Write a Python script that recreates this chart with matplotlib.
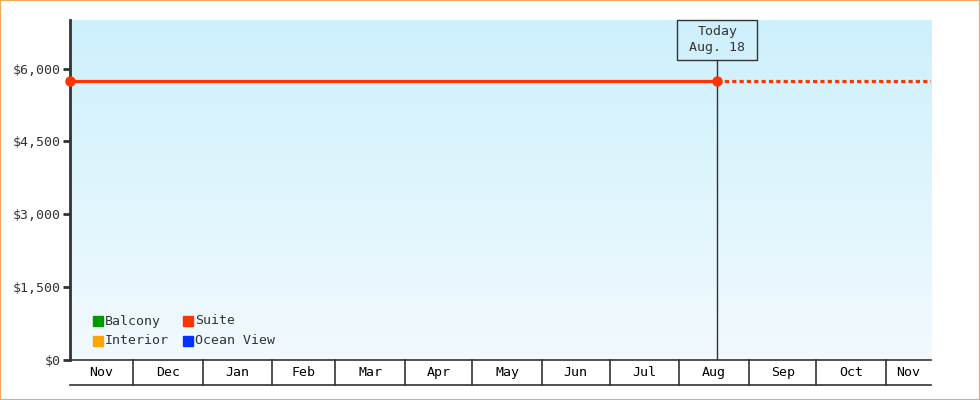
import matplotlib
matplotlib.use("Agg")
import matplotlib.pyplot as plt
import matplotlib.dates as mdates
from matplotlib.patches import Rectangle
import numpy as np
import datetime as dt

# ---- data ----
series_names = ["Balcony", "Interior", "Suite", "Ocean View"]
series_colors = ["#009900", "#ffa500", "#ff3300", "#0033ff"]
suite_dates = ["2024-11-03", "2025-08-18"]
suite_prices = [5745, 5745]
forecast_end = "2025-11-21"
today_label = "Today\nAug. 18"
today_date = "2025-08-18"
yticks = [0, 1500, 3000, 4500, 6000]
ytick_labels = ["$0", "$1,500", "$3,000", "$4,500", "$6,000"]
month_labels = ["Nov", "Dec", "Jan", "Feb", "Mar", "Apr", "May", "Jun", "Jul", "Aug", "Sep", "Oct", "Nov"]
month_starts = ["2024-11-01", "2024-12-01", "2025-01-01", "2025-02-01", "2025-03-01", "2025-04-01",
                "2025-05-01", "2025-06-01", "2025-07-01", "2025-08-01", "2025-09-01", "2025-10-01",
                "2025-11-01", "2025-12-01"]

def d(s):
    return mdates.date2num(dt.datetime.strptime(s, "%Y-%m-%d"))

font = "DejaVu Sans Mono"
dark = "#333333"
fs = 9.5

fig = plt.figure(figsize=(9.8, 4.0), dpi=100)
fig.patch.set_facecolor("white")
fig.add_artist(Rectangle((0, 0), 1, 1, transform=fig.transFigure, fill=False,
                         edgecolor="#f0a860", linewidth=1.5))
ax = fig.add_axes([70/980, 40/400, 861/980, 340/400])

x0, x1 = d(suite_dates[0]), d(forecast_end)
ymax = 7000
ax.set_xlim(x0, x1)
ax.set_ylim(0, ymax)

# gradient background
grad = np.linspace(0, 1, 256).reshape(-1, 1)
top = np.array([0xcd, 0xf0, 0xfc]) / 255
bot = np.array([0xf2, 0xfa, 0xfe]) / 255
img = top[None, None, :] * (1 - grad[:, :, None]) + bot[None, None, :] * grad[:, :, None]
ax.imshow(img, extent=[0, 1, 0, 1], transform=ax.transAxes, aspect="auto", zorder=0)

for s in ["top", "right"]:
    ax.spines[s].set_visible(False)
ax.spines["left"].set_color(dark)
ax.spines["left"].set_linewidth(2)
ax.spines["bottom"].set_color(dark)
ax.spines["bottom"].set_linewidth(1.2)

ax.set_yticks(yticks)
ax.set_yticklabels(ytick_labels, fontfamily=font, fontsize=fs, color=dark)
ax.tick_params(axis="y", length=5, width=2, color=dark, pad=2)
ax.set_xticks([])

# suite line
sx = [d(s) for s in suite_dates]
ax.plot(sx, suite_prices, color=series_colors[2], lw=2.3, zorder=3, solid_capstyle="butt")
ax.plot(sx, suite_prices, "o", color=series_colors[2], ms=6.5, zorder=4, clip_on=False)
ax.plot([sx[-1], x1], [suite_prices[-1]] * 2, color=series_colors[2], lw=2.3,
        linestyle=(0, (1.3, 1.0)), dash_capstyle="butt", zorder=3)

# today marker with box
td = d(today_date)
px_per_day = (861) / (x1 - x0)
box_w = 80 / px_per_day
box_bottom = ymax - 40 * ymax / 340
ax.plot([td, td], [0, box_bottom], color=dark, lw=1, zorder=2)
ax.add_patch(Rectangle((td - box_w / 2, box_bottom), box_w, ymax - box_bottom,
                       fill=False, edgecolor=dark, lw=1, zorder=5, clip_on=False))
ax.text(td, (box_bottom + ymax) / 2, today_label, ha="center", va="center", fontfamily=font,
        fontsize=fs, color=dark, linespacing=1.3, zorder=5)

# month band row
ms = [d(s) for s in month_starts]
trans = ax.get_xaxis_transform()
row_h = 25 / 340
for i, lab in enumerate(month_labels):
    a = max(ms[i], x0)
    b = min(ms[i + 1], x1)
    ax.text((a + b) / 2, -row_h / 2, lab, transform=trans, ha="center", va="center",
            fontfamily=font, fontsize=fs, color="black")
    if i > 0:
        ax.plot([ms[i], ms[i]], [0, -row_h], transform=trans, color=dark, lw=1.2, clip_on=False)
ax.plot([x0, x1], [-row_h, -row_h], transform=trans, color=dark, lw=1.2, clip_on=False)

# legend (2 columns, column-wise)
def axx(px):
    return (px - 70) / 861
def axy(py):
    return (360 - py) / 340
sq_pos = [(98, 321), (98, 341), (188, 321), (188, 341)]
for (px, py), n, c in zip(sq_pos, series_names, series_colors):
    ax.plot([axx(px)], [axy(py)], marker="s", ms=7.3, color=c, transform=ax.transAxes,
            linestyle="none", zorder=6)
    ax.text(axx(px + 7), axy(py), n, transform=ax.transAxes, ha="left", va="center",
            fontfamily=font, fontsize=fs, color=dark, zorder=6)

fig.savefig("out.png", dpi=100)
